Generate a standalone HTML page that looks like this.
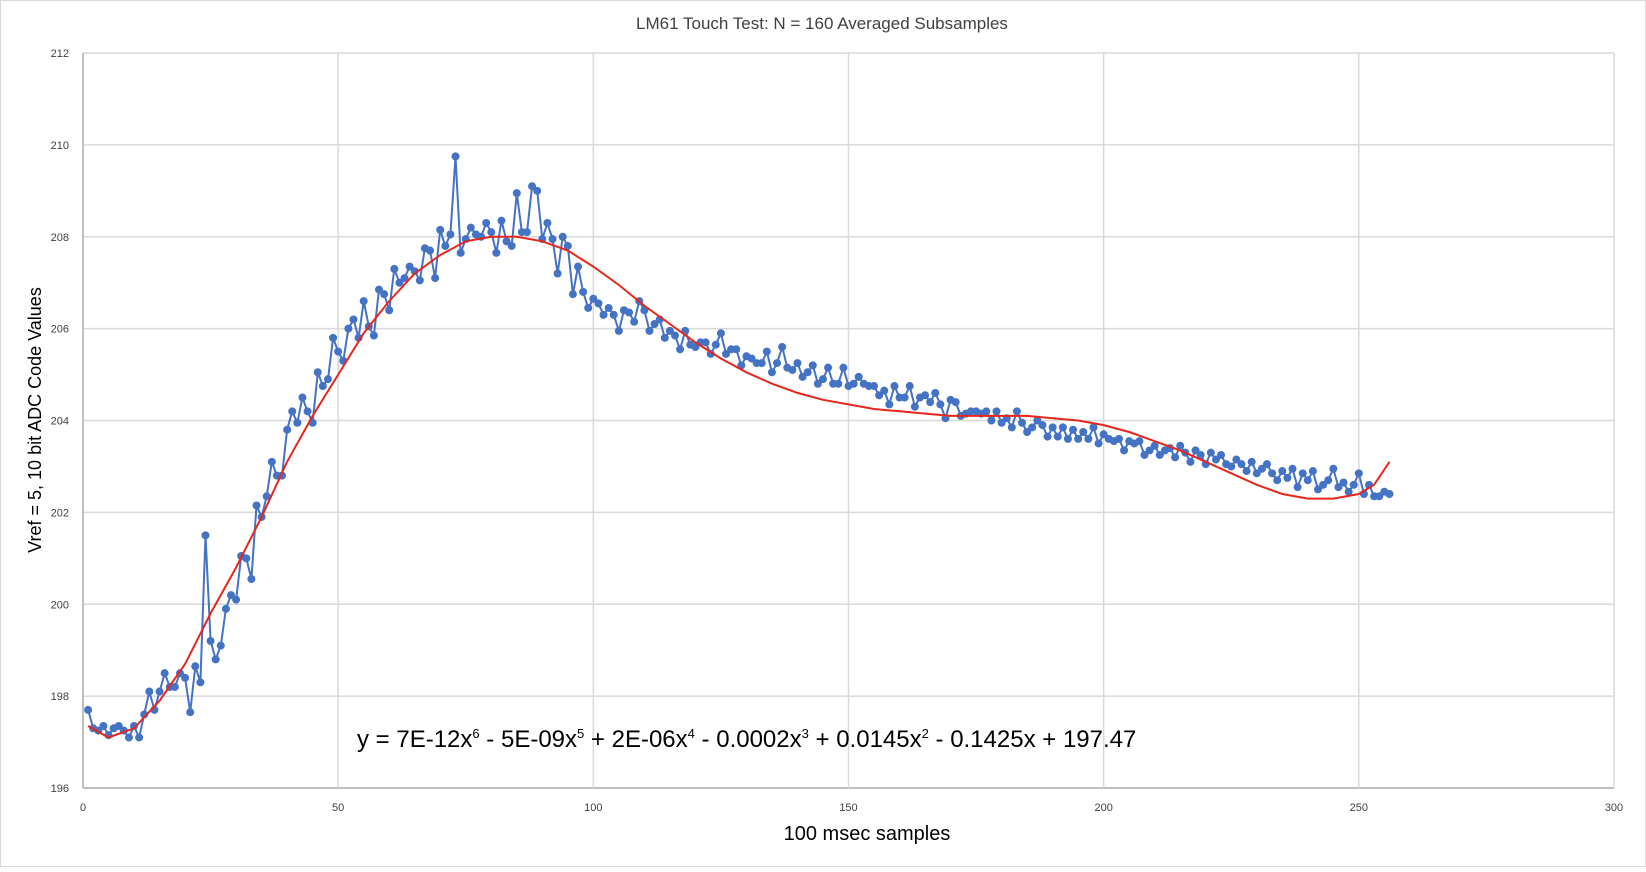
<!DOCTYPE html>
<html><head><meta charset="utf-8"><style>
body{margin:0;background:#fff;}
svg{display:block;font-family:"Liberation Sans",sans-serif;}
</style></head><body>
<svg id="chart" width="1646" height="872">
<rect x="0.5" y="0.5" width="1645" height="866" fill="#fff" stroke="#d9d9d9"/>
<text x="822" y="29" text-anchor="middle" font-size="17" fill="#404040">LM61 Touch Test: N = 160 Averaged Subsamples</text>
<text x="867" y="840" text-anchor="middle" font-size="20" fill="#000">100 msec samples</text>
<text transform="translate(41,420) rotate(-90)" text-anchor="middle" font-size="18" fill="#000">Vref = 5, 10 bit ADC Code Values</text>
<g id="grid"></g><g id="ticks"></g><g id="series"></g>
<text x="357" y="747" font-size="24" fill="#000">y = 7E-12x<tspan dy="-9" font-size="13">6</tspan><tspan dy="9"> - 5E-09x</tspan><tspan dy="-9" font-size="13">5</tspan><tspan dy="9"> + 2E-06x</tspan><tspan dy="-9" font-size="13">4</tspan><tspan dy="9"> - 0.0002x</tspan><tspan dy="-9" font-size="13">3</tspan><tspan dy="9"> + 0.0145x</tspan><tspan dy="-9" font-size="13">2</tspan><tspan dy="9"> - 0.1425x + 197.47</tspan></text>
</svg>
<script>
const xTicks=[0,50,100,150,200,250,300];
const yTicks=[196,198,200,202,204,206,208,210,212];
const measured=[197.7,197.3,197.25,197.35,197.15,197.3,197.35,197.25,197.1,197.35,
197.1,197.6,198.1,197.7,198.1,198.5,198.2,198.2,198.5,198.4,
197.65,198.65,198.3,201.5,199.2,198.8,199.1,199.9,200.2,200.1,
201.05,201.0,200.55,202.15,201.9,202.35,203.1,202.8,202.8,203.8,
204.2,203.95,204.5,204.2,203.95,205.05,204.75,204.9,205.8,205.5,
205.3,206.0,206.2,205.8,206.6,206.05,205.85,206.85,206.75,206.4,
207.3,207.0,207.1,207.35,207.25,207.05,207.75,207.7,207.1,208.15,
207.8,208.05,209.75,207.65,207.95,208.2,208.05,208.0,208.3,208.1,
207.65,208.35,207.9,207.8,208.95,208.1,208.1,209.1,209.0,207.95,
208.3,207.95,207.2,208.0,207.8,206.75,207.35,206.8,206.45,206.65,
206.55,206.3,206.45,206.3,205.95,206.4,206.35,206.15,206.6,206.4,
205.95,206.1,206.2,205.8,205.95,205.85,205.55,205.95,205.65,205.6,
205.7,205.7,205.45,205.65,205.9,205.45,205.55,205.55,205.2,205.4,
205.35,205.25,205.25,205.5,205.05,205.25,205.6,205.15,205.1,205.25,
204.95,205.05,205.2,204.8,204.9,205.15,204.8,204.8,205.15,204.75,
204.8,204.95,204.8,204.75,204.75,204.55,204.65,204.35,204.75,204.5,
204.5,204.75,204.3,204.5,204.55,204.4,204.6,204.35,204.05,204.45,
204.4,204.1,204.15,204.2,204.2,204.15,204.2,204.0,204.2,203.95,
204.05,203.85,204.2,203.95,203.75,203.85,204.0,203.9,203.65,203.85,
203.65,203.85,203.6,203.8,203.6,203.75,203.6,203.85,203.5,203.7,
203.6,203.55,203.6,203.35,203.55,203.5,203.55,203.25,203.35,203.45,
203.25,203.35,203.4,203.2,203.45,203.3,203.1,203.35,203.25,203.05,
203.3,203.15,203.25,203.05,203.0,203.15,203.05,202.9,203.1,202.85,
202.95,203.05,202.85,202.7,202.9,202.75,202.95,202.55,202.85,202.7,
202.9,202.5,202.6,202.7,202.95,202.55,202.65,202.45,202.6,202.85,
202.4,202.6,202.35,202.35,202.45,202.4];
const trendX=[1,5,10,15,20,25,30,35,40,45,50,55,60,65,70,75,80,85,90,95,100,105,110,115,120,125,130,135,140,145,150,155,160,165,170,175,180,185,190,195,200,205,210,215,220,225,230,235,240,245,250,253,256];
const trendY=[197.35,197.1,197.3,197.9,198.7,199.8,200.8,201.9,203.1,204.1,205.0,205.9,206.6,207.2,207.6,207.9,208.0,208.0,207.9,207.7,207.35,206.95,206.5,206.1,205.7,205.35,205.05,204.8,204.6,204.45,204.35,204.25,204.2,204.15,204.1,204.1,204.1,204.1,204.05,204.0,203.9,203.75,203.55,203.35,203.1,202.85,202.6,202.4,202.3,202.3,202.4,202.6,203.1];

const L=83,R=1614,T=53,B=788;
const sx=v=>L+(v-0)/(300-0)*(R-L);
const sy=v=>B-(v-196)/(212-196)*(B-T);
const NS='http://www.w3.org/2000/svg';
function mk(tag,attrs,parent){const e=document.createElementNS(NS,tag);for(const k in attrs)e.setAttribute(k,attrs[k]);parent.appendChild(e);return e;}
const grid=document.getElementById('grid'),ticks=document.getElementById('ticks'),series=document.getElementById('series');
yTicks.forEach(v=>{
 const l=mk('line',{x1:L,x2:R,y1:sy(v),y2:sy(v),stroke:v===196?'#bfbfbf':'#d9d9d9','stroke-width':v===196?2:1.5},grid);
 
 
 const t=mk('text',{x:L-14,y:sy(v)+4,'text-anchor':'end','font-size':11,fill:'#404040'},ticks);
 t.textContent=v;
 
 
});
xTicks.forEach(v=>{
 const l=mk('line',{x1:sx(v),x2:sx(v),y1:T,y2:B,stroke:v===0?'#bfbfbf':'#d9d9d9','stroke-width':v===0?2:1.5},grid);
 
 
 const t=mk('text',{x:sx(v),y:B+23,'text-anchor':'middle','font-size':11,fill:'#404040'},ticks);
 t.textContent=v;
 
 
});
const pts=measured.map((v,i)=>sx(i+1).toFixed(1)+','+sy(v).toFixed(1)).join(' ');
const line=mk('polyline',{points:pts,fill:'none',stroke:'#4472c4','stroke-width':2},series);


measured.forEach((v,i)=>{
 const c=mk('circle',{cx:sx(i+1),cy:sy(v),r:4,fill:'#4472c4'},series);
 
 
});
const tp=trendX.map((x,i)=>sx(x).toFixed(1)+','+sy(trendY[i]).toFixed(1)).join(' ');
const tr=mk('polyline',{points:tp,fill:'none',stroke:'#e8261c','stroke-width':2},series);


</script>
</body></html>
